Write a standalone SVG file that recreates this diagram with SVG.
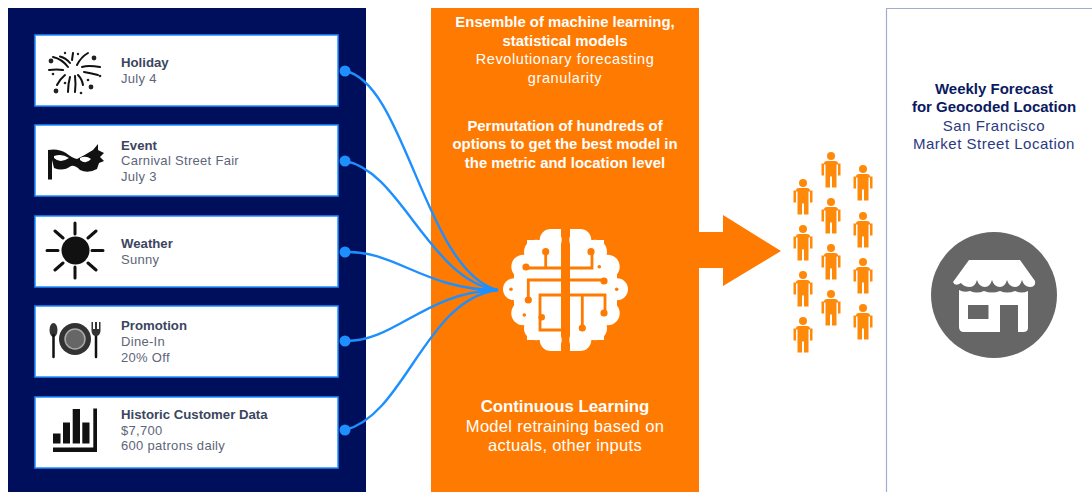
<svg xmlns="http://www.w3.org/2000/svg" xmlns:xlink="http://www.w3.org/1999/xlink" width="1092" height="492" viewBox="0 0 1092 492">
<style>
text{font-family:"Liberation Sans","Open Sans",sans-serif}
.card{fill:#fff;stroke:#1e8fff;stroke-width:1.500}
.h{font-size:13.200px;font-weight:700;fill:#3b4560}
.s{font-size:13px;fill:#5d6579;letter-spacing:.3px}
.w{fill:#fff;text-anchor:middle;font-size:14.500px;letter-spacing:.6px}
.l{font-size:16.500px;letter-spacing:.3px}
.b{font-weight:700;font-size:14.900px;letter-spacing:0}
.bl{font-size:16.800px}
.n{text-anchor:middle;font-size:15px;fill:#2b3a80;letter-spacing:.5px}
.nb{font-weight:700;fill:#0b1a5f;letter-spacing:0}
.wire{fill:none;stroke:#1e8fff;stroke-width:2.400;stroke-linecap:round}
.ic{fill:none;stroke:#111;stroke-linecap:round}
.ckt{fill:none;stroke:#ff7a00;stroke-width:2.800}
.o{fill:#ff7a00}
</style>
<defs>
<g id="person" fill="#ff8a0a">
<circle cx="0" cy="4" r="4"/>
<path d="M-7 12Q-7 9.500-4 9.500H4Q7 9.500 7 12H9.500V24H7V13H5.500V36H1V25H-1V36H-5.500V13H-7V24H-9.500V12Z" transform="translate(0 -.5)"/>
</g>
<g id="lobe">
<circle cx="550.700" cy="240" r="11"/><circle cx="536" cy="251.700" r="12"/><circle cx="523.300" cy="266.700" r="12"/><circle cx="514" cy="289.300" r="11"/><circle cx="523.300" cy="313.300" r="12"/><circle cx="536" cy="328.300" r="12"/><circle cx="550.700" cy="340" r="11"/>
<rect x="527" y="240" width="34" height="100"/><rect x="550" y="229" width="11" height="122"/><rect x="514" y="270" width="20" height="40"/>
</g>
</defs>
<rect x="8" y="8" width="358" height="484" fill="#000f5c"/>
<rect x="431" y="8" width="268" height="484" class="o"/>
<path d="M886.500 492V8.500H1092" fill="none" stroke="#a3abd2" stroke-width="1.200"/>

<g id="node-holiday">
<rect class="card" x="35" y="35" width="303" height="71"/>
<g class="ic" stroke-width="2" stroke="#222">
<path d="M68 67Q62 59 53 57M70 63Q66 58 60 56.500M72 60L73 53M77 65Q81 57 88 53M82 67Q88 65 100 67M63 70Q57 69 49 70M65 75Q60 79 57 85M70 77Q68 84 68 92M75 76Q76 84 75 92M78 75Q82 79 83 85M84 72Q90 73 98 75"/>
</g>
<g fill="#222"><circle cx="56" cy="91" r="2.400"/><circle cx="91" cy="87" r="2.400"/><circle cx="51" cy="61" r="2.400"/><circle cx="94" cy="58" r="2.400"/><circle cx="65" cy="53" r="1.200"/><circle cx="78" cy="54" r="1.200"/><circle cx="81" cy="93" r="1.300"/><circle cx="100" cy="76" r="1.300"/><circle cx="53" cy="74" r="1.300"/><circle cx="88" cy="80" r="1.300"/><circle cx="65" cy="83" r="1.300"/></g>
<text class="h" x="121" y="67">Holiday</text>
<text class="s" x="121" y="83">July 4</text>
</g>

<g id="node-event">
<rect class="card" x="35" y="125" width="303" height="71"/>
<path fill="#111" fill-rule="evenodd" d="M48 150Q58 148 66 153Q72 158 77 159Q85 155 93 150L98 144L98 150L104 153L100 157L104 161L99 163L97 169Q88 174 80 170Q75 165 71 166Q63 172 54 168L52 160V179.500H48ZM54 158Q60 164 69 158Q62 153 54 156ZM80 160Q86 165 91 159Q86 155 80 158Z"/>
<text class="h" x="121" y="150">Event</text>
<text class="s" x="121" y="165">Carnival Street Fair</text>
<text class="s" x="121" y="181">July 3</text>
</g>

<g id="node-weather">
<rect class="card" x="35" y="216" width="303" height="71"/>
<circle cx="75.500" cy="250.500" r="14" fill="#111"/>
<path class="ic" stroke-width="3" stroke-linecap="butt" d="M75 223V234M75 267V278M47 250.500H58M92 250.500H103M55 231L63 238M96 231L88 238M55 270L63 263M96 270L88 263"/>
<text class="h" x="121" y="248">Weather</text>
<text class="s" x="121" y="264">Sunny</text>
</g>

<g id="node-promotion">
<rect class="card" x="35" y="306" width="303" height="71"/>
<circle cx="75" cy="339" r="16" fill="#333"/>
<circle cx="75" cy="339" r="10" fill="#666" stroke="#aaa" stroke-width="1.500"/>
<ellipse cx="53.500" cy="330" rx="4" ry="7" fill="#333"/>
<path class="ic" stroke="#333" stroke-width="2.500" stroke-linecap="butt" d="M53.500 335V357M96 330V357"/>
<path fill="#333" d="M91.500 322H93V329H95V322H97V329H99V322H100.500V331Q100 336 96 336Q92 336 91.500 331Z"/>
<text class="h" x="121" y="330">Promotion</text>
<text class="s" x="121" y="346">Dine-In</text>
<text class="s" x="121" y="362">20% Off</text>
</g>

<g id="node-history">
<rect class="card" x="35" y="397" width="303" height="71"/>
<path fill="#111" d="M53 433.500H60.500V443.500H53ZM63 422.500H70V443.500H63ZM72.700 409H80V443.500H72.700ZM82.300 422.500H89.500V443.500H82.300ZM93.300 408.500H97V452H53V447.500H93.300Z"/>
<text class="h" x="121" y="419">Historic Customer Data</text>
<text class="s" x="121" y="435">$7,700</text>
<text class="s" x="121" y="450">600 patrons daily</text>
</g>

<g id="node-models">
<text class="w b" x="565" y="27">Ensemble of machine learning,</text>
<text class="w b" x="565" y="46">statistical models</text>
<text class="w" x="565" y="64">Revolutionary forecasting</text>
<text class="w" x="565" y="83">granularity</text>
<text class="w b" x="565" y="131">Permutation of hundreds of</text>
<text class="w b" x="565" y="149">options to get the best model in</text>
<text class="w b" x="565" y="168">the metric and location level</text>
<text class="w b bl" x="565" y="412">Continuous Learning</text>
<text class="w l" x="565" y="432">Model retraining based on</text>
<text class="w l" x="565" y="451">actuals, other inputs</text>
</g>

<g id="node-brain">
<use xlink:href="#lobe" href="#lobe" fill="#fff"/>
<use xlink:href="#lobe" href="#lobe" fill="#fff" transform="translate(1131 0) scale(-1 1)"/>
<g class="ckt">
<path d="M526 268H561M545.700 252V268M570 268H592V252"/>
<path d="M561 280H528.300V300M570 280H604"/>
<path d="M561 295H540V330H561M570 295H605V313M582.300 295V328"/>
</g>
<g class="o">
<circle cx="526" cy="267" r="3.600"/><circle cx="545.700" cy="251.700" r="3.600"/><circle cx="591" cy="251.700" r="3.600"/><circle cx="599.300" cy="266.700" r="1.800"/><circle cx="604" cy="281" r="3.600"/><circle cx="528.300" cy="300" r="3.600"/><circle cx="541.700" cy="317.300" r="3.300"/><circle cx="604" cy="313" r="3.600"/><circle cx="582.300" cy="328" r="3.600"/><circle cx="511" cy="289.300" r="1.800"/><circle cx="616.700" cy="289.300" r="1.800"/><circle cx="524.300" cy="315" r="1.800"/>
</g>
</g>

<g id="node-arrow">
<path class="o" d="M699 232H723V215L781 251L723 286V268H699Z"/>
</g>

<g id="node-crowd">
<use href="#person" x="803" y="179"/><use href="#person" x="803" y="225"/><use href="#person" x="803" y="271"/><use href="#person" x="803" y="317"/>
<use href="#person" x="831" y="152"/><use href="#person" x="831" y="198"/><use href="#person" x="831" y="244"/><use href="#person" x="831" y="290"/>
<use href="#person" x="863" y="165"/><use href="#person" x="863" y="212"/><use href="#person" x="863" y="258"/><use href="#person" x="863" y="304"/>
</g>

<g id="node-location">
<text class="n nb" x="994" y="94">Weekly Forecast</text>
<text class="n nb" x="994" y="112">for Geocoded Location</text>
<text class="n" x="994" y="131">San Francisco</text>
<text class="n" x="994" y="149">Market Street Location</text>
<circle cx="994" cy="295" r="63" fill="#666"/>
<path fill="#fff" d="M969 260H1020L1035 281Q1036 287 1030 287Q1024 287 1022 280Q1020 287 1015 287Q1009 287 1007 280Q1005 287 1000 287Q994 287 992 280Q990 287 985 287Q979 287 977 280Q975 287 970 287Q964 287 961 283Q955 287 953 282Z"/>
<path fill="#fff" fill-rule="evenodd" d="M959 290Q964 293 970 291Q977 294 984 291Q992 294 1000 291Q1007 294 1015 291Q1022 294 1028 291V328Q1028 332 1023 332H1018V305H1000V332H964Q959 332 959 327ZM968 305V319H988.500V305Z"/>
</g>

<g id="connectors">
<path class="wire" d="M345 71C405 82 425 270 497 290"/>
<path class="wire" d="M345 161C400 170 430 280 497 290"/>
<path class="wire" d="M345 252C395 250 425 290 497 290"/>
<path class="wire" d="M345 341C395 342 425 292 497 290"/>
<path class="wire" d="M345 430C405 415 425 300 497 290"/>
<path fill="#1e8fff" d="M478 288L497 288.300Q499 290 497 291.700L478 292Z"/>
<g fill="#1e8fff"><circle cx="345" cy="71" r="5.500"/><circle cx="345" cy="161" r="5.500"/><circle cx="345" cy="252" r="5.500"/><circle cx="345" cy="341" r="5.500"/><circle cx="345" cy="430" r="5.500"/></g>
</g>
</svg>
